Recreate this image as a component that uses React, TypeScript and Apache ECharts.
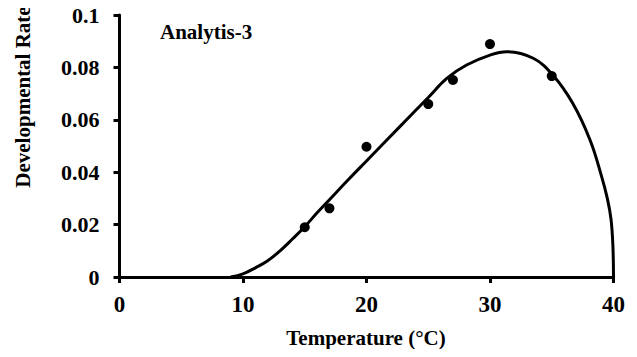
import React, { useEffect, useRef } from "react";
import * as echarts from "echarts";

const obsTemp = [15, 17, 20, 25, 27, 30, 35];
const obsRate = [0.019, 0.0262, 0.0497, 0.066, 0.0752, 0.0889, 0.0767];

const fitTemp = [9, 10, 11, 12, 13, 14, 15, 16, 17, 18.5, 20, 22.7, 25, 26.5, 28.1, 30, 31.35, 33.5, 35.1, 36.7, 38.1, 39, 39.5, 39.8, 39.95, 40];
const fitRate = [0, 0.0012, 0.0035, 0.0062, 0.01, 0.0145, 0.0192, 0.0245, 0.0295, 0.037, 0.0443, 0.0574, 0.0685, 0.0758, 0.0809, 0.0847, 0.086, 0.0835, 0.077, 0.0663, 0.0523, 0.039, 0.03, 0.022, 0.012, 0];

const xTicks = [0, 10, 20, 30, 40];
const yTicks = [0, 0.02, 0.04, 0.06, 0.08, 0.1];

const modelName = "Analytis-3";
const xTitle = "Temperature (°C)";
const yTitle = "Developmental Rate";

const FONT = "'Liberation Serif', 'Times New Roman', serif";

export default function App() {
  const ref = useRef<HTMLDivElement>(null);
  useEffect(() => {
    if (!ref.current) return;
    const chart = echarts.init(ref.current, undefined, { renderer: "svg" });
    const axisStyle = {
      axisLine: { show: true, lineStyle: { color: "#000", width: 3 } },
      axisTick: { show: true, inside: false, length: 6, lineStyle: { color: "#000", width: 3 } },
      splitLine: { show: false },
    };
    chart.setOption({
      animation: false,
      backgroundColor: "#fff",
      grid: { left: 119.5, right: 23.5, top: 15, bottom: 80 },
      xAxis: {
        type: "value",
        min: xTicks[0],
        max: xTicks[xTicks.length - 1],
        interval: 10,
        ...axisStyle,
        axisLabel: { color: "#000", fontFamily: FONT, fontWeight: "bold", fontSize: 23, margin: 16 },
      },
      yAxis: {
        type: "value",
        min: yTicks[0],
        max: yTicks[yTicks.length - 1],
        interval: 0.02,
        ...axisStyle,
        axisLabel: {
          color: "#000",
          fontFamily: FONT,
          fontWeight: "bold",
          fontSize: 22,
          margin: 20,
          formatter: (v: number) => (v === 0 ? "0" : String(+v.toFixed(2))),
        },
      },
      graphic: [
        {
          type: "text",
          x: 23,
          y: 97,
          rotation: Math.PI / 2,
          style: { text: yTitle, fill: "#000", font: `bold 21px ${FONT}`, align: "center", verticalAlign: "middle" },
        },
        {
          type: "text",
          x: 366,
          y: 338,
          style: { text: xTitle, fill: "#000", font: `bold 21px ${FONT}`, align: "center", verticalAlign: "middle" },
        },
        {
          type: "text",
          x: 160,
          y: 31.5,
          style: { text: modelName, fill: "#000", font: `bold 21px ${FONT}`, align: "left", verticalAlign: "middle" },
        },
      ],
      series: [
        {
          type: "line",
          data: fitTemp.map((t, i) => [t, fitRate[i]]),
          smooth: 0.4,
          symbol: "none",
          lineStyle: { color: "#000", width: 3 },
          z: 2,
        },
        {
          type: "scatter",
          data: obsTemp.map((t, i) => [t, obsRate[i]]),
          symbol: "circle",
          symbolSize: 10,
          itemStyle: { color: "#000", opacity: 1 },
          z: 3,
        },
      ],
    });
    return () => chart.dispose();
  }, []);
  return <div ref={ref} style={{ width: 637, height: 357, margin: -8 }} />;
}
